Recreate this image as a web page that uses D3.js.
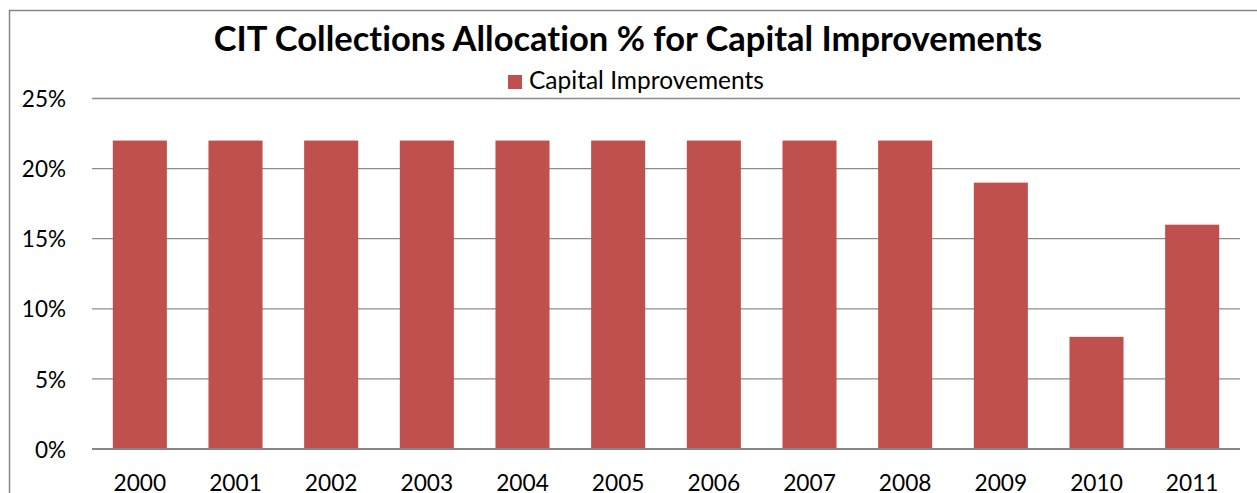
<!DOCTYPE html>
<html>
<head>
<meta charset="utf-8">
<script src="https://cdn.jsdelivr.net/npm/d3@7"></script>
<style>
  html, body { margin: 0; padding: 0; background: #fff; }
  svg { display: block; }
  text { font-family: Lato, "Open Sans", sans-serif; fill: #000; font-variant-ligatures: none; }
</style>
</head>
<body>
<svg id="chart" width="1257" height="493"></svg>
<script>
// Share of CIT collections allocated to capital improvements, by year
const years = ["2000", "2001", "2002", "2003", "2004", "2005", "2006", "2007", "2008", "2009", "2010", "2011"];
const capitalImprovements = [0.22, 0.22, 0.22, 0.22, 0.22, 0.22, 0.22, 0.22, 0.22, 0.19, 0.08, 0.16];
const yTicks = [0, 0.05, 0.10, 0.15, 0.20, 0.25];
const seriesName = "Capital Improvements";
const titleText = "CIT Collections Allocation % for Capital Improvements";

const svg = d3.select("#chart");
const plot = { left: 92, right: 1240, top: 98.5, bottom: 449 };

// chart frame
svg.append("rect")
  .attr("x", 9.5).attr("y", 10.5)
  .attr("width", 1270).attr("height", 520)
  .attr("fill", "none").attr("stroke", "#868686").attr("stroke-width", 1.5);

const x = d3.scaleBand().domain(years).range([plot.left, plot.right]).paddingInner(0.435).paddingOuter(0.2175);
const y = d3.scaleLinear().domain([0, 0.25]).range([plot.bottom, plot.top]);

// gridlines
svg.append("g")
  .selectAll("line")
  .data(yTicks.filter(d => d > 0))
  .join("line")
  .attr("x1", plot.left).attr("x2", plot.right)
  .attr("y1", d => y(d)).attr("y2", d => y(d))
  .attr("stroke", "#8c8c8c").attr("stroke-width", 1.3);

// bars
svg.append("g")
  .selectAll("rect")
  .data(years.map((yr, i) => ({ yr, v: capitalImprovements[i] })))
  .join("rect")
  .attr("x", d => x(d.yr))
  .attr("width", x.bandwidth())
  .attr("y", d => y(d.v))
  .attr("height", d => y(0) - y(d.v))
  .attr("fill", "#C0504D");

// y axis labels
const yAxis = d3.axisLeft(y).tickValues(yTicks).tickFormat(d3.format(".0%")).tickSize(0).tickPadding(26);
const yg = svg.append("g").attr("transform", `translate(${plot.left},0)`).call(yAxis);
yg.select(".domain").remove();
yg.selectAll("text").attr("font-size", 22.5).attr("font-family", "Lato").attr("fill", "#000").attr("dy", "0.36em");

// x axis
const xAxis = d3.axisBottom(x).tickSize(0);
const xg = svg.append("g").attr("transform", `translate(0,${plot.bottom})`).call(xAxis);
xg.select(".domain").attr("d", `M${plot.left},0H${plot.right}`).attr("stroke", "#868686").attr("stroke-width", 2);
xg.selectAll("text").attr("font-size", 22.7).attr("font-family", "Lato").attr("fill", "#000").attr("y", 42).attr("dy", 0);

// title
svg.append("text")
  .attr("x", 628).attr("y", 51)
  .attr("text-anchor", "middle")
  .attr("font-size", 34.5).attr("font-weight", "bold")
  .text(titleText);

// legend
const lg = svg.append("g");
lg.append("rect").attr("x", 508).attr("y", 75).attr("width", 14).attr("height", 14).attr("fill", "#C0504D");
lg.append("text").attr("x", 529).attr("y", 89).attr("font-size", 24.5).text(seriesName);
</script>
</body>
</html>
